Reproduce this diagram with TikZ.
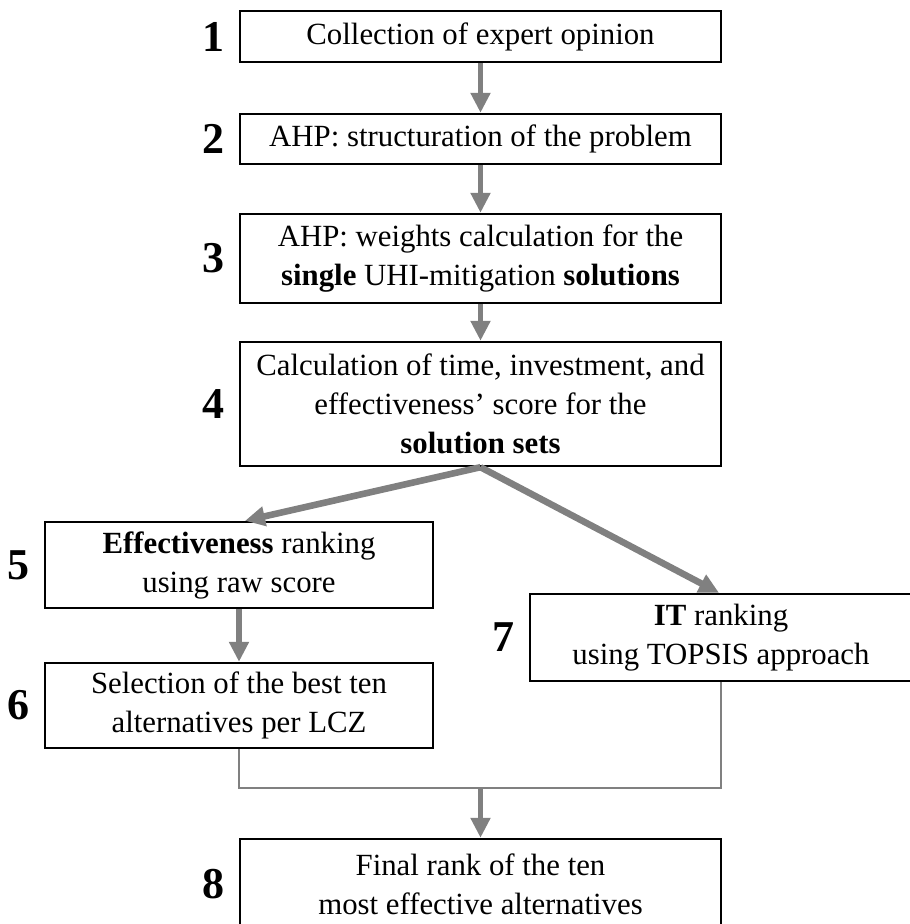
\documentclass[tikz,border=0pt]{standalone}
\usepackage{fontspec}
\setmainfont{Liberation Serif}
\usetikzlibrary{arrows.meta,positioning}
\definecolor{flowgray}{RGB}{128,128,128}
\newcommand{\boxfont}{\fontsize{15.4}{19.5}\selectfont}
\newcommand{\numfont}{\fontsize{22}{24}\selectfont\bfseries}
\begin{document}
\begin{tikzpicture}[x = 0.5pt, y = -0.5pt,
	box/.style = {draw, line width = 1.2pt, align = center, inner sep = 0pt, font = \boxfont},
	num/.style = {font = \numfont, inner sep = 0pt},
	flow/.style = {draw = flowgray, line width = 2.6pt, -{Triangle[length = 10pt, width = 9.5pt]}},
	link/.style = {draw = flowgray, line width = 1.3pt}]
	\useasboundingbox (0, 0) rectangle (909, 924);
	% main column
	\node[box, minimum width = 240.5pt, minimum height = 25.5pt] (b1) at (480.5, 36.5) {Collection of expert opinion};
	\node[box, minimum width = 240.5pt, minimum height = 25pt] (b2) at (480.5, 139) {AHP: structuration of the problem};
	\node[box, minimum width = 240.5pt, minimum height = 44.5pt] (b3) at (480.5, 258.5) {AHP: weights calculation for the\\\textbf{single} UHI-mitigation \textbf{solutions}};
	\node[box, minimum width = 240.5pt, minimum height = 62pt] (b4) at (480.5, 404) {Calculation of time, investment, and\\effectiveness' score for the\\\textbf{solution sets}};
	% two branches
	\node[box, minimum width = 194pt, minimum height = 43pt] (b5) at (239, 565) {\textbf{Effectiveness} ranking\\using raw score};
	\node[box, minimum width = 194pt, minimum height = 42.5pt] (b6) at (239, 705.5) {Selection of the best ten\\alternatives per LCZ};
	\node[box, minimum width = 191pt, minimum height = 43.5pt] (b7) at (721, 637.5) {\textbf{IT} ranking\\using TOPSIS approach};
	\node[box, minimum width = 240.5pt, minimum height = 45.5pt] (b8) at (480.5, 884.5) {Final rank of the ten\\most effective alternatives};
	\foreach \b/\n in {b1/1, b2/2, b3/3, b4/4, b5/5, b6/6, b7/7, b8/8}{
		\node[num, left = 7pt of \b] (n\n) {\n};}
	% connectors
	\draw[flow] (b1) -- (b2);
	\draw[flow] (b2) -- (b3);
	\draw[flow] (b3) -- (b4);
	\draw[flow, line width = 3.3pt] (b4.south) -- ([xshift = 3pt]b5.north);
	\draw[flow, line width = 3.3pt] (b4.south) -- ([xshift = -1pt]b7.north);
	\draw[flow] (b5) -- (b6);
	\coordinate (m) at (480.5, 788);
	\draw[link] (b6.south) |- (b7.south |- m) -- (b7.south);
	\draw[flow] (m) -- (b8);
\end{tikzpicture}
\end{document}
